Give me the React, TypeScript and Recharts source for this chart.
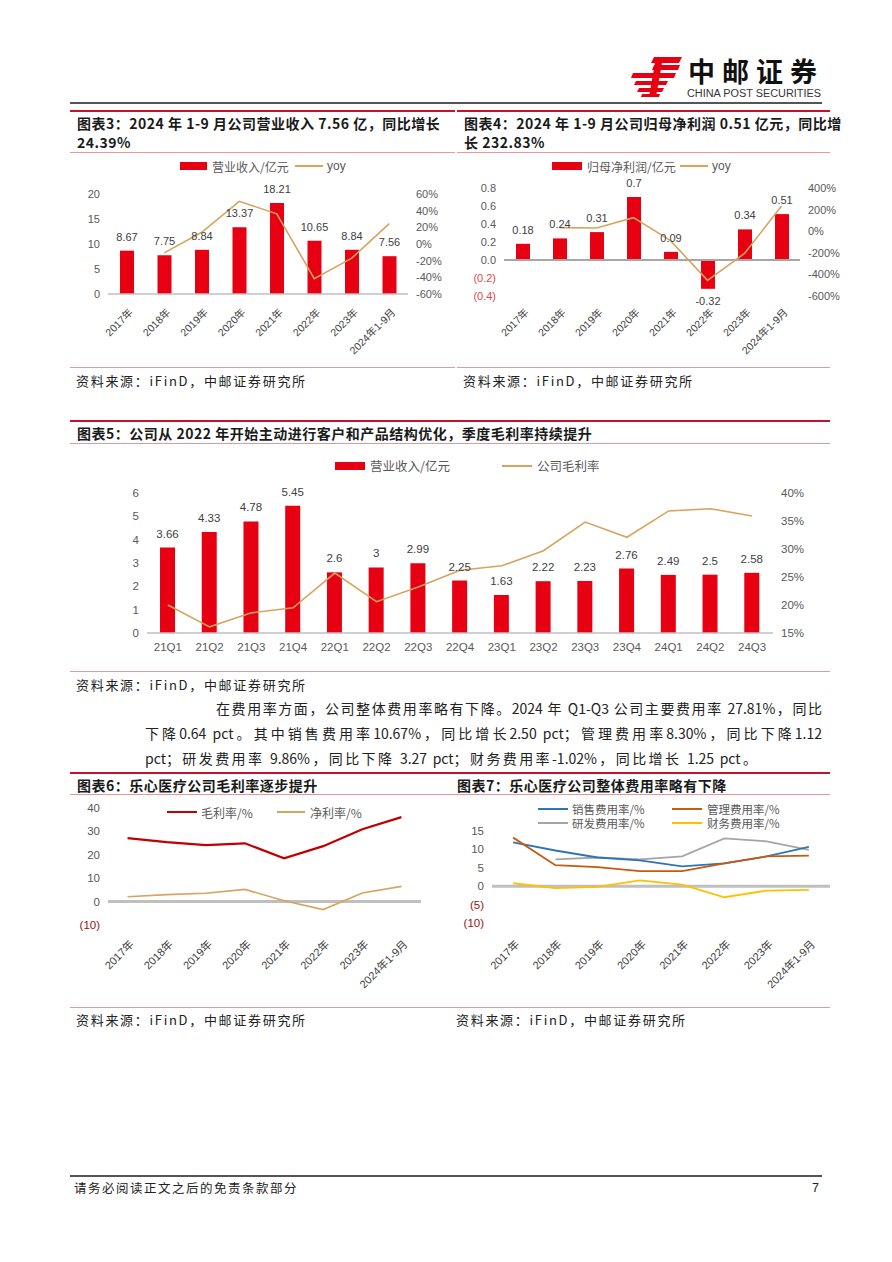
import React from 'react';
import { ComposedChart, Bar, Line, XAxis, YAxis, ReferenceLine, LabelList } from 'recharts';

// ---------- data ----------
const years = ['2017年', '2018年', '2019年', '2020年', '2021年', '2022年', '2023年', '2024年1-9月'];
const revenue = [8.67, 7.75, 8.84, 13.37, 18.21, 10.65, 8.84, 7.56];
const revenueYoy = [null, -10.6, 14.1, 51.2, 36.2, -41.5, -17.0, 24.39];
const netProfit = [0.18, 0.24, 0.31, 0.7, 0.09, -0.32, 0.34, 0.51];
const netProfitYoy = [null, 33.3, 29.2, 125.8, -87.1, -455.6, -206.3, 232.83];

const quarters = ['21Q1', '21Q2', '21Q3', '21Q4', '22Q1', '22Q2', '22Q3', '22Q4', '23Q1', '23Q2', '23Q3', '23Q4', '24Q1', '24Q2', '24Q3'];
const quarterRevenue = [3.66, 4.33, 4.78, 5.45, 2.6, 2.81, 2.99, 2.25, 1.63, 2.22, 2.23, 2.76, 2.49, 2.5, 2.58];
const quarterRevenueLabels = ['3.66', '4.33', '4.78', '5.45', '2.6', '3', '2.99', '2.25', '1.63', '2.22', '2.23', '2.76', '2.49', '2.5', '2.58'];
const quarterGrossMargin = [20.0, 16.1, 18.6, 19.5, 25.7, 20.6, 23.2, 26.2, 27.0, 29.7, 34.8, 32.1, 36.8, 37.2, 35.9];

const grossMargin = [27.1, 25.4, 24.1, 24.9, 18.5, 23.7, 30.9, 36.1];
const netMargin = [2.1, 3.0, 3.6, 5.2, 0.4, -3.4, 3.7, 6.5];

const sellingRate = [11.9, 9.7, 7.8, 7.0, 5.4, 6.2, 8.1, 10.67];
const adminRate = [13.2, 5.7, 5.2, 4.1, 4.1, 6.2, 8.1, 8.3];
const rdRate = [null, 7.3, 7.8, 7.3, 8.1, 13.0, 12.2, 9.86];
const financeRate = [0.8, -0.5, -0.2, 1.6, 0.4, -3.0, -1.2, -1.02];

const chart3Data = years.map((name, i) => ({ name, rev: revenue[i], yoy: revenueYoy[i] }));
const chart4Data = years.map((name, i) => ({ name, np: netProfit[i], yoy: netProfitYoy[i] }));
const chart5Data = quarters.map((name, i) => ({ name, rev: quarterRevenue[i], label: quarterRevenueLabels[i], gm: quarterGrossMargin[i] }));
const chart6Data = years.map((name, i) => ({ name, gm: grossMargin[i], nm: netMargin[i] }));
const chart7Data = years.map((name, i) => ({ name, s: sellingRate[i], a: adminRate[i], r: rdRate[i], f: financeRate[i] }));

// ---------- styles ----------
const RED = '#E60012';
const TAN = '#D6A45E';
const DARKRED = '#C00000';
const FONT_CJK = '"Noto Sans CJK SC", "Noto Sans", sans-serif';
const FONT_AX = '"Liberation Sans", Arial, "Noto Sans CJK SC", sans-serif';
const AX_COLOR = '#595959';

function Txt(props: any) {
  const { x, y, size = 13, bold = false, color = '#222', ls = 0, font = FONT_CJK, children, w, align, lh: lhIn } = props;
  const lh = lhIn || Math.round(size * 1.4);
  return (
    <div
      style={{
        position: 'absolute', left: x, top: y - lh / 2, fontSize: size, lineHeight: lh + 'px', height: lh,
        fontWeight: bold ? 700 : 400, color, letterSpacing: ls, fontFamily: font, whiteSpace: 'nowrap',
        width: w, textAlign: align, textAlignLast: align,
      }}
    >
      {children}
    </div>
  );
}

function HLine({ x1, x2, y, color, t = 1 }: any) {
  return <div style={{ position: 'absolute', left: x1, top: y - t / 2, width: x2 - x1, height: t, background: color }} />;
}

function LegRect({ x, y, w = 30, h = 8, color }: any) {
  return <div style={{ position: 'absolute', left: x, top: y - h / 2, width: w, height: h, background: color }} />;
}

function LegLine({ x, y, w = 28, color, t = 2 }: any) {
  return <div style={{ position: 'absolute', left: x, top: y - t / 2, width: w, height: t, background: color }} />;
}

function TitleBox({ x1, x2, yTop, yBottom, lines, lineYs }: any) {
  return (
    <>
      <HLine x1={x1} x2={x2} y={yTop} color="#C8102E" t={2} />
      <HLine x1={x1} x2={x2} y={yBottom} color="#E29AA0" t={1} />
      {lines.map((l: string, i: number) => (
        <Txt key={i} x={x1 + 7} y={lineYs[i]} size={14} bold color="#1a1a1a" ls={0.5} lh={19}>{l}</Txt>
      ))}
    </>
  );
}

function Source({ x1, x2, yLine, yText }: any) {
  return (
    <>
      <HLine x1={x1} x2={x2} y={yLine} color="#E29AA0" t={1} />
      <Txt x={x1 + 6} y={yText} size={13} color="#222" ls={1.7}>资料来源：iFinD，中邮证券研究所</Txt>
    </>
  );
}

// ---------- ticks & labels ----------
const rotTick = (size: number, dx = 2, dy = 6) => (p: any) => {
  const ox = p.x + dx;
  const oy = p.y + dy;
  return (
    <text
      x={ox}
      y={oy}
      dy={7}
      textAnchor="end"
      fontSize={size}
      fill="#404040"
      fontFamily={FONT_AX}
      transform={`rotate(-45 ${ox} ${oy})`}
    >
      {p.payload.value}
    </text>
  );
};

const yTick = (anchor: string, fmt: (v: number) => string, negColor: string | null, size = 11) => (p: any) => {
  const v = p.payload.value;
  return (
    <text x={p.x} y={p.y} dy={4} textAnchor={anchor} fontSize={size} fontFamily={FONT_AX} fill={v < 0 && negColor ? negColor : AX_COLOR}>
      {fmt(v)}
    </text>
  );
};

const barLabel = (texts: string[] | null, size = 11) => (p: any) => {
  const vb = p.viewBox && p.viewBox.width !== undefined ? p.viewBox : p;
  const { x, y, width, height } = vb;
  const v = p.value;
  const top = Math.min(y, y + height);
  const bottom = Math.max(y, y + height);
  const text = texts ? texts[p.index] : String(v);
  const ty = v < 0 ? bottom + 16 : top - 10;
  return (
    <text x={x + width / 2} y={ty} textAnchor="middle" fontSize={size} fontFamily={FONT_AX} fill="#404040">
      {text}
    </text>
  );
};

const paren = (v: number) => (v < 0 ? `(${Math.abs(v)})` : String(v));

// ---------- charts ----------
function Chart3() {
  return (
    <div style={{ position: 'absolute', left: 70, top: 160 }}>
      <ComposedChart width={380} height={200} data={chart3Data} margin={{ top: 34, right: 2, left: 8, bottom: 0 }}>
        <XAxis dataKey="name" interval={0} height={66} tick={rotTick(10.5, 2, 6)} axisLine={{ stroke: '#BFBFBF', strokeWidth: 1.5 }} tickLine={false} />
        <YAxis yAxisId="l" width={30} domain={[0, 20]} ticks={[0, 5, 10, 15, 20]} interval={0} axisLine={false} tickLine={false} tick={yTick('end', (v) => String(v), null)} />
        <YAxis yAxisId="r" orientation="right" width={40} domain={[-60, 60]} ticks={[-60, -40, -20, 0, 20, 40, 60]} interval={0} axisLine={false} tickLine={false} tick={yTick('start', (v) => v + '%', null)} />
        <Bar yAxisId="l" dataKey="rev" fill={RED} barSize={14} isAnimationActive={false}>
          <LabelList dataKey="rev" content={barLabel(null)} />
        </Bar>
        <Line yAxisId="r" dataKey="yoy" stroke={TAN} strokeWidth={1.6} dot={false} isAnimationActive={false} />
      </ComposedChart>
    </div>
  );
}

function Chart4() {
  return (
    <div style={{ position: 'absolute', left: 455, top: 160 }}>
      <ComposedChart width={390} height={200} data={chart4Data} margin={{ top: 28, right: 5, left: 9, bottom: 0 }}>
        <XAxis dataKey="name" interval={0} height={64} tick={rotTick(10.5, 2, 4)} axisLine={false} tickLine={false} />
        <YAxis
          yAxisId="l" width={40} domain={[-0.4, 0.8]} ticks={[-0.4, -0.2, 0, 0.2, 0.4, 0.6, 0.8]} interval={0}
          axisLine={false} tickLine={false}
          tick={yTick('end', (v) => (v < 0 ? `(${Math.abs(v).toFixed(1)})` : v.toFixed(1)), '#E0474F')}
        />
        <YAxis yAxisId="r" orientation="right" width={40} domain={[-600, 400]} ticks={[-600, -400, -200, 0, 200, 400]} interval={0} axisLine={false} tickLine={false} tick={yTick('start', (v) => v + '%', null)} />
        <ReferenceLine yAxisId="l" y={0} stroke="#A6A6A6" strokeWidth={2} />
        <Bar yAxisId="l" dataKey="np" fill={RED} barSize={14} isAnimationActive={false}>
          <LabelList dataKey="np" content={barLabel(null)} />
        </Bar>
        <Line yAxisId="r" dataKey="yoy" stroke={TAN} strokeWidth={1.6} dot={false} isAnimationActive={false} />
      </ComposedChart>
    </div>
  );
}

function Chart5() {
  return (
    <div style={{ position: 'absolute', left: 70, top: 480 }}>
      <ComposedChart width={760} height={180} data={chart5Data} margin={{ top: 13, right: 7, left: 7, bottom: 0 }}>
        <XAxis dataKey="name" interval={0} height={27} axisLine={{ stroke: '#BFBFBF', strokeWidth: 1.5 }} tickLine={false} tick={{ fontSize: 11.5, fill: AX_COLOR, fontFamily: FONT_AX }} tickMargin={4} />
        <YAxis yAxisId="l" width={70} domain={[0, 6]} ticks={[0, 1, 2, 3, 4, 5, 6]} interval={0} axisLine={false} tickLine={false} tick={yTick('end', (v) => String(v), null, 11.5)} />
        <YAxis yAxisId="r" orientation="right" width={50} domain={[15, 40]} ticks={[15, 20, 25, 30, 35, 40]} interval={0} axisLine={false} tickLine={false} tick={yTick('start', (v) => v + '%', null, 11.5)} />
        <Bar yAxisId="l" dataKey="rev" fill={RED} barSize={15} isAnimationActive={false}>
          <LabelList dataKey="rev" content={barLabel(quarterRevenueLabels, 11.5)} />
        </Bar>
        <Line yAxisId="r" dataKey="gm" stroke={TAN} strokeWidth={1.6} dot={false} isAnimationActive={false} />
      </ComposedChart>
    </div>
  );
}

function Chart6() {
  return (
    <div style={{ position: 'absolute', left: 70, top: 800 }}>
      <ComposedChart width={380} height={200} data={chart6Data} margin={{ top: 8, right: 29, left: 8, bottom: 0 }}>
        <XAxis dataKey="name" interval={0} height={75} scale="band" tick={rotTick(11, 2, 7)} axisLine={false} tickLine={false} />
        <YAxis width={30} domain={[-10, 40]} ticks={[-10, 0, 10, 20, 30, 40]} interval={0} axisLine={false} tickLine={false} tick={yTick('end', paren, '#A01010', 11.5)} />
        <ReferenceLine y={0} stroke="#BFBFBF" strokeWidth={3} />
        <Line dataKey="gm" stroke={DARKRED} strokeWidth={2.2} dot={false} isAnimationActive={false} />
        <Line dataKey="nm" stroke={TAN} strokeWidth={1.6} dot={false} isAnimationActive={false} />
      </ComposedChart>
    </div>
  );
}

function Chart7() {
  return (
    <div style={{ position: 'absolute', left: 455, top: 820 }}>
      <ComposedChart width={380} height={180} data={chart7Data} margin={{ top: 11, right: 5, left: 7, bottom: 0 }}>
        <XAxis dataKey="name" interval={0} height={77} scale="band" tick={rotTick(11, 2, 9)} axisLine={false} tickLine={false} />
        <YAxis width={30} domain={[-10, 15]} ticks={[-10, -5, 0, 5, 10, 15]} interval={0} axisLine={false} tickLine={false} tick={yTick('end', paren, '#A01010', 11.5)} />
        <ReferenceLine y={0} stroke="#BFBFBF" strokeWidth={3} />
        <Line dataKey="r" stroke="#A5A5A5" strokeWidth={1.8} dot={false} isAnimationActive={false} />
        <Line dataKey="s" stroke="#2E75B6" strokeWidth={1.8} dot={false} isAnimationActive={false} />
        <Line dataKey="a" stroke="#C55A11" strokeWidth={1.8} dot={false} isAnimationActive={false} />
        <Line dataKey="f" stroke="#FFC000" strokeWidth={1.8} dot={false} isAnimationActive={false} />
      </ComposedChart>
    </div>
  );
}

function Logo() {
  return (
    <svg style={{ position: 'absolute', left: 630, top: 52 }} width={60} height={50} viewBox="0 0 60 50">
      <polygon points="24,5 52,5 49,11 21,11" fill={RED} />
      <polygon points="24,13 50,13 48,18 22,18" fill={RED} />
      <polygon points="3,21 46,21 44,26 1,26" fill={RED} />
      <polygon points="6,29 38,29 36,33 4,33" fill={RED} />
      <polygon points="9,36 34,36 32,40 7,40" fill={RED} />
      <polygon points="26,5 33,5 26,45 19,45" fill={RED} />
      <polygon points="12,42 30,42 29,45 11,45" fill={RED} />
    </svg>
  );
}

export default function App() {
  return (
    <div style={{ position: 'absolute', left: 0, top: 0, width: 892, height: 1262, background: '#fff', overflow: 'hidden' }}>
      {/* header */}
      <Logo />
      <Txt x={688} y={71} size={27} bold color="#111" ls={7} font={FONT_CJK}>中邮证券</Txt>
      <svg style={{ position: 'absolute', left: 686, top: 86 }} width={140} height={14}>
        <text x={1} y={11} fontSize={10} fontFamily={FONT_AX} fill="#333" textLength={134} lengthAdjust="spacingAndGlyphs">CHINA POST SECURITIES</text>
      </svg>
      <HLine x1={70} x2={822} y={103} color="#555" t={1.5} />

      {/* chart 3 & 4 */}
      <TitleBox x1={70} x2={455} yTop={111} yBottom={152} lines={['图表3：2024 年 1-9 月公司营业收入 7.56 亿，同比增长', '24.39%']} lineYs={[123, 142]} />
      <TitleBox x1={457} x2={830} yTop={111} yBottom={152} lines={['图表4：2024 年 1-9 月公司归母净利润 0.51 亿元，同比增', '长 232.83%']} lineYs={[123, 142]} />
      <Chart3 />
      <Chart4 />
      <LegRect x={180} y={166} w={27} h={8} color={RED} />
      <Txt x={212} y={166} size={12} color={AX_COLOR}>营业收入/亿元</Txt>
      <LegLine x={295} y={166} w={28} color={TAN} />
      <Txt x={327} y={166} size={12} color={AX_COLOR} font={FONT_AX}>yoy</Txt>
      <LegRect x={552} y={166} w={30} h={8} color={RED} />
      <Txt x={587} y={166} size={12} color={AX_COLOR}>归母净利润/亿元</Txt>
      <LegLine x={680} y={166} w={28} color={TAN} />
      <Txt x={712} y={166} size={12} color={AX_COLOR} font={FONT_AX}>yoy</Txt>
      <Source x1={70} x2={455} yLine={367} yText={381} />
      <Source x1={457} x2={830} yLine={367} yText={381} />

      {/* chart 5 */}
      <TitleBox x1={70} x2={830} yTop={421} yBottom={443} lines={['图表5：公司从 2022 年开始主动进行客户和产品结构优化，季度毛利率持续提升']} lineYs={[433]} />
      <Chart5 />
      <LegRect x={335} y={466} w={30} h={8} color={RED} />
      <Txt x={370} y={466} size={12.5} color={AX_COLOR}>营业收入/亿元</Txt>
      <LegLine x={502} y={466} w={30} color={TAN} />
      <Txt x={537} y={466} size={12.5} color={AX_COLOR}>公司毛利率</Txt>
      <Source x1={70} x2={830} yLine={671} yText={685} />

      {/* paragraph */}
      <Txt x={216} y={708} size={14} color="#222" w={606} align="justify">在费用率方面，公司整体费用率略有下降。2024 年 Q1-Q3 公司主要费用率 27.81%，同比</Txt>
      <Txt x={145} y={733} size={14} color="#222" w={677} align="justify">下降0.64 pct。其中销售费用率10.67%，同比增长2.50 pct；管理费用率8.30%，同比下降1.12</Txt>
      <Txt x={145} y={758} size={14} color="#222" w={612} align="justify">pct；研发费用率 9.86%，同比下降 3.27 pct；财务费用率-1.02%，同比增长 1.25 pct。</Txt>

      {/* chart 6 & 7 */}
      <TitleBox x1={70} x2={450} yTop={773} yBottom={794} lines={['图表6：乐心医疗公司毛利率逐步提升']} lineYs={[785]} />
      <TitleBox x1={450} x2={830} yTop={773} yBottom={794} lines={['图表7：乐心医疗公司整体费用率略有下降']} lineYs={[785]} />
      <Chart6 />
      <Chart7 />
      <LegLine x={167} y={812} w={30} color={DARKRED} t={2} />
      <Txt x={201} y={812} size={12} color={AX_COLOR}>毛利率/%</Txt>
      <LegLine x={277} y={812} w={28} color={TAN} t={2} />
      <Txt x={310} y={812} size={12} color={AX_COLOR}>净利率/%</Txt>

      <LegLine x={538} y={809} w={30} color="#2E75B6" t={2} />
      <Txt x={572} y={809} size={11.5} lh={14} color={AX_COLOR}>销售费用率/%</Txt>
      <LegLine x={672} y={809} w={30} color="#C55A11" t={2} />
      <Txt x={707} y={809} size={11.5} lh={14} color={AX_COLOR}>管理费用率/%</Txt>
      <LegLine x={538} y={823} w={30} color="#A5A5A5" t={2} />
      <Txt x={572} y={823} size={11.5} lh={14} color={AX_COLOR}>研发费用率/%</Txt>
      <LegLine x={672} y={823} w={30} color="#FFC000" t={2} />
      <Txt x={707} y={823} size={11.5} lh={14} color={AX_COLOR}>财务费用率/%</Txt>
      <Source x1={70} x2={450} yLine={1007} yText={1020} />
      <Source x1={450} x2={830} yLine={1007} yText={1020} />

      {/* footer */}
      <HLine x1={70} x2={822} y={1176} color="#555" t={1.5} />
      <Txt x={74} y={1188} size={12.5} color="#222" ls={1.5}>请务必阅读正文之后的免责条款部分</Txt>
      <Txt x={812} y={1188} size={12.5} color="#222" font={FONT_AX}>7</Txt>
    </div>
  );
}
